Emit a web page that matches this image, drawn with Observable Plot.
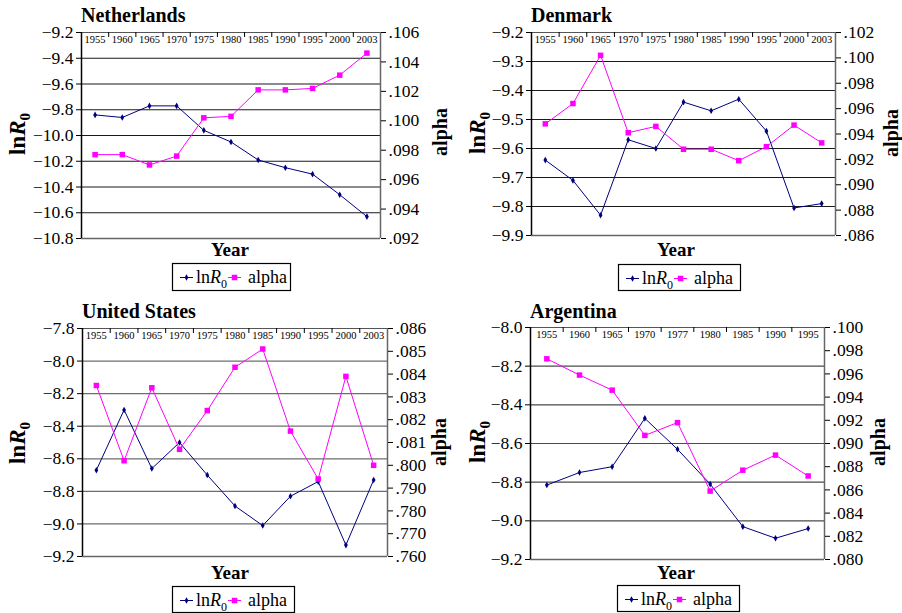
<!DOCTYPE html>
<html>
<head>
<meta charset="utf-8">
<script src="https://cdn.jsdelivr.net/npm/d3@7"></script>
<script src="https://cdn.jsdelivr.net/npm/@observablehq/plot@0.6"></script>
<style>
html, body { margin: 0; padding: 0; background: #fff; }
#page { position: relative; width: 902px; height: 613px; overflow: hidden; font-family: "Liberation Serif", "Times New Roman", serif; }
.panel { position: absolute; }
#overlay { position: absolute; left: 0; top: 0; pointer-events: none; }
</style>
</head>
<body>
<div id="page"></div>
<script>
// ---------------- DATA ----------------
const nlYears = ["1955","1960","1965","1970","1975","1980","1985","1990","1995","2000","2003"];
const nlLnR0  = [-9.84, -9.86, -9.77, -9.77, -9.96, -10.05, -10.19, -10.25, -10.30, -10.46, -10.63];
const nlAlpha = [0.0977, 0.0977, 0.0970, 0.0976, 0.1002, 0.1003, 0.1021, 0.1021, 0.1022, 0.1031, 0.1046];
const nlLnTicks = [-10.8, -10.6, -10.4, -10.2, -10.0, -9.8, -9.6, -9.4, -9.2];
const nlAlphaTicks = [0.092, 0.094, 0.096, 0.098, 0.100, 0.102, 0.104, 0.106];
const nlAlphaLabels = [".092", ".094", ".096", ".098", ".100", ".102", ".104", ".106"];

const dkYears = ["1955","1960","1965","1970","1975","1980","1985","1990","1995","2000","2003"];
const dkLnR0  = [-9.64, -9.71, -9.83, -9.57, -9.60, -9.44, -9.47, -9.43, -9.54, -9.805, -9.79];
const dkAlpha = [0.0948, 0.0964, 0.1002, 0.0941, 0.0946, 0.0928, 0.0928, 0.0919, 0.0930, 0.0947, 0.0933];
const dkLnTicks = [-9.9, -9.8, -9.7, -9.6, -9.5, -9.4, -9.3, -9.2];
const dkAlphaTicks = [0.086, 0.088, 0.090, 0.092, 0.094, 0.096, 0.098, 0.100, 0.102];
const dkAlphaLabels = [".086", ".088", ".090", ".092", ".094", ".096", ".098", ".100", ".102"];

const usYears = ["1955","1960","1965","1970","1975","1980","1985","1990","1995","2000","2003"];
const usLnR0  = [-8.67, -8.30, -8.66, -8.50, -8.70, -8.89, -9.01, -8.83, -8.74, -9.13, -8.73];
const usAlpha = [0.0835, 0.0802, 0.0834, 0.0807, 0.0824, 0.0843, 0.0851, 0.0815, 0.0794, 0.0839, 0.0800];
const usLnTicks = [-9.2, -9.0, -8.8, -8.6, -8.4, -8.2, -8.0, -7.8];
const usAlphaTicks = [0.076, 0.077, 0.078, 0.079, 0.080, 0.081, 0.082, 0.083, 0.084, 0.085, 0.086];
const usAlphaLabels = [".760", ".770", ".780", ".790", ".800", ".081", ".082", ".083", ".084", ".085", ".086"];

const arYears = ["1955","1960","1965","1970","1977","1980","1985","1990","1995"];
const arLnR0  = [-8.815, -8.75, -8.72, -8.47, -8.63, -8.81, -9.03, -9.09, -9.04];
const arAlpha = [0.0973, 0.0959, 0.0946, 0.0907, 0.0918, 0.0859, 0.0877, 0.0890, 0.0872];
const arLnTicks = [-9.2, -9.0, -8.8, -8.6, -8.4, -8.2, -8.0];
const arAlphaTicks = [0.080, 0.082, 0.084, 0.086, 0.088, 0.090, 0.092, 0.094, 0.096, 0.098, 0.100];
const arAlphaLabels = [".080", ".082", ".084", ".086", ".088", ".090", ".092", ".094", ".096", ".098", ".100"];

// ---------------- LAYOUT ----------------
const panels = [
  { title: "Netherlands", years: nlYears, ln: nlLnR0, alpha: nlAlpha, lnTicks: nlLnTicks, aTicks: nlAlphaTicks, aLabels: nlAlphaLabels,
    ox: 0, oy: 0, w: 451, h: 300, fl: 81, fr: 380, ft: 32, fb: 238, grid: "#1a1a1a",
    titleY: 22, yearX: 230, yearY: 256, lnX: 18, lnY: 134, alX: 440, alY: 132, leg: { x: 172, y: 263, w: 119, h: 28 } },
  { title: "Denmark", years: dkYears, ln: dkLnR0, alpha: dkAlpha, lnTicks: dkLnTicks, aTicks: dkAlphaTicks, aLabels: dkAlphaLabels,
    ox: 451, oy: 0, w: 451, h: 300, fl: 531, fr: 835, ft: 32, fb: 235, grid: "#1a1a1a",
    titleY: 22, yearX: 676, yearY: 256, lnX: 478, lnY: 133, alX: 891, alY: 133, leg: { x: 618, y: 264, w: 123, h: 27 } },
  { title: "United States", years: usYears, ln: usLnR0, alpha: usAlpha, lnTicks: usLnTicks, aTicks: usAlphaTicks, aLabels: usAlphaLabels,
    ox: 0, oy: 300, w: 451, h: 313, fl: 82, fr: 387, ft: 328, fb: 556, grid: "#6e6e6e",
    titleY: 318, yearX: 230, yearY: 579, lnX: 18, lnY: 443, alX: 439, alY: 442, leg: { x: 172, y: 586, w: 123, h: 27 } },
  { title: "Argentina", years: arYears, ln: arLnR0, alpha: arAlpha, lnTicks: arLnTicks, aTicks: arAlphaTicks, aLabels: arAlphaLabels,
    ox: 451, oy: 300, w: 451, h: 313, fl: 530, fr: 824, ft: 327, fb: 559, grid: "#4a4a4a",
    titleY: 318, yearX: 676, yearY: 579, lnX: 478, lnY: 442, alX: 878, alY: 442, leg: { x: 617, y: 585, w: 123, h: 27 } }
];

const NAVY = "#000080", MAGENTA = "#ff00ff";
const FONT = "Liberation Serif";
const page = document.getElementById("page");
const fmtLn = d3.format(".1f");

for (const p of panels) {
  const n = p.years.length;
  const yLo = d3.min(p.lnTicks), yHi = d3.max(p.lnTicks);
  const aLo = d3.min(p.aTicks), aHi = d3.max(p.aTicks);
  const toY = a => yLo + (a - aLo) / (aHi - aLo) * (yHi - yLo);
  const data = p.years.map((c, i) => ({ i, c, ln: p.ln[i], ay: toY(p.alpha[i]) }));
  const bounds = d3.range(1, n).map(k => k - 0.5);
  const aTickPos = p.aTicks.map(toY);
  const aFmt = d => { const k = aTickPos.findIndex(v => Math.abs(v - d) < 1e-9); return k >= 0 ? p.aLabels[k] : ""; };
  const frameH = p.fb - p.ft;
  const xDom = [-0.5, n - 0.5];

  const chart = Plot.plot({
    width: p.w, height: p.h,
    marginLeft: p.fl - p.ox, marginRight: p.ox + p.w - p.fr,
    marginTop: p.ft - p.oy, marginBottom: p.oy + p.h - p.fb,
    style: "font-family: 'Liberation Serif', serif; font-size: 17.5px; color: #000; background: transparent; overflow: visible;",
    x: { type: "linear", domain: xDom, axis: null },
    y: { domain: [yLo, yHi] },
    marks: [
      Plot.ruleY(p.lnTicks.filter(t => t !== yLo && t !== yHi), { stroke: p.grid, strokeWidth: 1.2 }),
      Plot.ruleY([yHi], { stroke: "#555", strokeWidth: 1 }),
      Plot.ruleY([yLo], { stroke: "#666", strokeWidth: 1.5 }),
      Plot.ruleX([xDom[0]], { stroke: "#000", strokeWidth: 1.5 }),
      Plot.ruleX([xDom[1]], { stroke: "#666", strokeWidth: 1.5 }),
      Plot.axisY({ anchor: "left", ticks: p.lnTicks, tickFormat: fmtLn, tickSize: 5, tickPadding: 3, label: null, fontSize: 17.5, fontFamily: FONT, fontVariant: "normal" }),
      Plot.axisY({ anchor: "right", ticks: aTickPos, tickFormat: aFmt, tickSize: 5, tickPadding: 3, label: null, fontSize: 17.5, fontFamily: FONT, fontVariant: "normal" }),
      Plot.tickX(bounds, { x: d => d, insetBottom: frameH - 5, stroke: "#000" }),
      Plot.text(data, { x: "i", text: "c", frameAnchor: "top", lineAnchor: "top", dy: 3, fontSize: 10.5, fontFamily: FONT }),
      Plot.line(data, { x: "i", y: "ln", stroke: NAVY, strokeWidth: 1 }),
      Plot.dot(data, { x: "i", y: "ln", symbol: "diamond", r: 2, fill: NAVY, stroke: null }),
      Plot.line(data, { x: "i", y: "ay", stroke: MAGENTA, strokeWidth: 1 }),
      Plot.dot(data, { x: "i", y: "ay", symbol: "square", r: 3.1, fill: MAGENTA, stroke: null })
    ]
  });
  const div = document.createElement("div");
  div.className = "panel";
  div.style.left = p.ox + "px";
  div.style.top = p.oy + "px";
  div.appendChild(chart);
  page.appendChild(div);
}

// ---------------- TEXT OVERLAY (titles, axis titles, legends) ----------------
const svg = d3.select(page).append("svg")
  .attr("id", "overlay").attr("width", 902).attr("height", 613)
  .attr("font-family", FONT);

for (const p of panels) {
  svg.append("text").attr("x", p.fl).attr("y", p.titleY)
    .attr("font-size", 20).attr("font-weight", "bold").text(p.title);
  svg.append("text").attr("x", p.yearX).attr("y", p.yearY)
    .attr("font-size", 19).attr("font-weight", "bold").attr("text-anchor", "middle").text("Year");
  svg.append("text").attr("transform", `translate(${p.alX + 7},${p.alY}) rotate(-90)`)
    .attr("font-size", 20).attr("font-weight", "bold").attr("text-anchor", "middle").text("alpha");
  const ln = svg.append("text").attr("transform", `translate(${p.lnX + 7},${p.lnY}) rotate(-90)`)
    .attr("font-size", 23).attr("font-weight", "bold").attr("text-anchor", "middle");
  ln.append("tspan").text("ln");
  ln.append("tspan").attr("font-style", "italic").text("R");
  ln.append("tspan").attr("font-size", 15).attr("dy", 5).text("0");

  const L = p.leg;
  const g = svg.append("g").attr("transform", `translate(${L.x},${L.y})`);
  g.append("rect").attr("x", 0.5).attr("y", 0.5).attr("width", L.w - 1).attr("height", L.h - 1)
    .attr("fill", "#fff").attr("stroke", "#000").attr("stroke-width", 1.2);
  const cy = 14.5;
  g.append("line").attr("x1", 8).attr("x2", 21).attr("y1", cy).attr("y2", cy).attr("stroke", NAVY);
  g.append("path").attr("d", d3.symbol(d3.symbolDiamond, Math.PI * 2 * 2)()).attr("transform", `translate(14.5,${cy})`).attr("fill", NAVY);
  const lt = g.append("text").attr("x", 24).attr("y", 20).attr("font-size", 18);
  lt.append("tspan").text("ln");
  lt.append("tspan").attr("font-style", "italic").text("R");
  lt.append("tspan").attr("font-size", 12).attr("dy", 5).text("0");
  g.append("line").attr("x1", 56).attr("x2", 69).attr("y1", cy).attr("y2", cy).attr("stroke", MAGENTA);
  g.append("path").attr("d", d3.symbol(d3.symbolSquare, Math.PI * 3.1 * 3.1)()).attr("transform", `translate(62.5,${cy})`).attr("fill", MAGENTA);
  g.append("text").attr("x", 76).attr("y", 20).attr("font-size", 18).text("alpha");
}
</script>
</body>
</html>
